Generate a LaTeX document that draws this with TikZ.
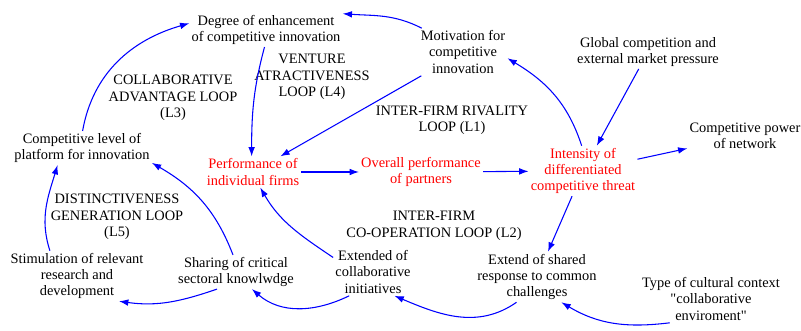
\documentclass[tikz,border=0pt]{standalone}
\usepackage{fontspec}
\setmainfont{Liberation Serif}
\usetikzlibrary{arrows.meta}
\definecolor{loopblue}{RGB}{0,0,255}
\definecolor{keyred}{RGB}{255,0,0}
\begin{document}
\begin{tikzpicture}[x=0.75pt,y=0.75pt]

%
% Styles
%
\tikzstyle{var} = [align=center,inner sep=1.5pt,font=\fontsize{10.8}{12.3}\selectfont]
\tikzstyle{keyvar} = [var,text=keyred]
\tikzstyle{looplabel} = [var]
\tikzstyle{link} = [draw=loopblue,line width=0.8pt,-{Latex[length=7pt,width=5pt]}]

\useasboundingbox (0,0) rectangle (801,331);

\node[var] (degree) at (266,301) {Degree of enhancement\\of competitive innovation};
\node[var] (motiv)  at (463,279) {Motivation for\\competitive\\innovation};
\node[var] (global) at (648,279) {Global competition and\\external market pressure};
\node[var] (power)  at (745,195) {Competitive power\\of network};
\node[keyvar] (perf)    at (253,159) {Performance of\\individual firms};
\node[keyvar] (overall) at (421,159) {Overall performance\\of partners};
\node[keyvar] (intens)  at (583,160) {Intensity of\\differentiated\\competitive threat};
\node[var] (level)  at (82,183)  {Competitive level of\\platform for innovation};
\node[var] (stim)   at (77,55)   {Stimulation of relevant\\research and\\development};
\node[var] (share)  at (236,59)  {Sharing of critical\\sectoral knowlwdge};
\node[var] (collab) at (373,59)  {Extended of\\collaborative\\initiatives};
\node[var] (extend) at (537,54)  {Extend of shared\\response to common\\challenges};
\node[var] (type)   at (711,32)  {Type of cultural context\\\textquotedbl collaborative\\enviroment\textquotedbl};

% loop names
\node[looplabel] (l3) at (173,233) {COLLABORATIVE\\ADVANTAGE LOOP\\(L3)};
\node[looplabel] (l4) at (312,254) {VENTURE\\ATRACTIVENESS\\LOOP (L4)};
\node[looplabel] (l1) at (452,211) {INTER-FIRM RIVALITY\\LOOP (L1)};
\node[looplabel] (l5) at (117,114) {DISTINCTIVENESS\\GENERATION LOOP\\(L5)};
\node[looplabel] (l2) at (434,105) {INTER-FIRM\\CO-OPERATION LOOP (L2)};

\draw[link] (motiv.150) to[out=153,in=-4] (degree.12);
\draw[link] (degree.-95) to[out=-105,in=90] (perf.95);
\draw[link] (motiv) -- (perf);
\draw[link] (intens.93) to[out=108,in=-31] (motiv.-8);
\draw[link] (global) -- (intens);
\draw[link] (intens) -- (power);
\draw[link] (perf) -- (overall);
\draw[link] (overall) -- (intens);
\draw[link] (intens) -- (extend);
\draw[link] (extend.231) to[out=215,in=-23] (collab.-48);
\draw[link] (type.210) to[out=187,in=-31] (extend.-46);
\draw[link] (collab.225) to[out=206,in=-41] (share.-47);
\draw[link] (collab.160) to[out=146,in=-60] (perf.-65);
\draw[link] (share.222) to[out=199,in=-8] (stim.-31);
\draw[link] (share.100) to[out=111,in=-30] (level.-12);
\draw[link] (stim.137) to[out=108,in=-107] (level.-145);
\draw[link] (level.88) to[out=80,in=-164] (degree.175);

\end{tikzpicture}
\end{document}
